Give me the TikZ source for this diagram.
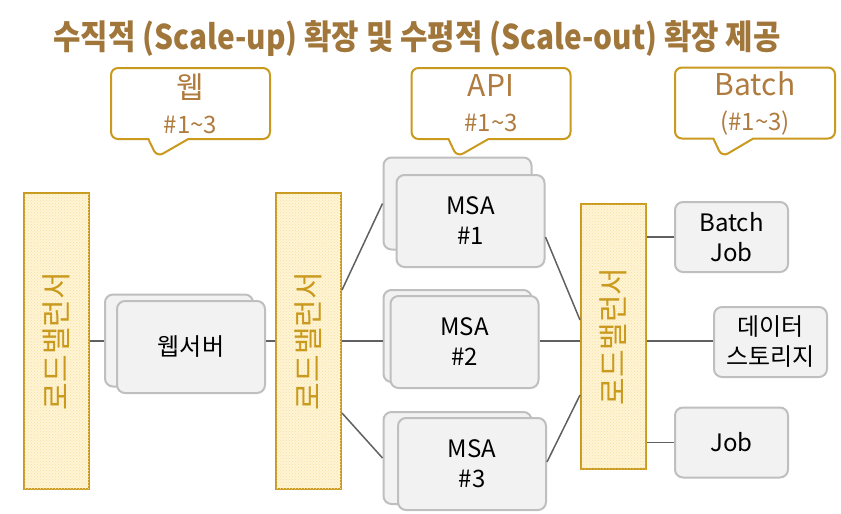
\documentclass[tikz,border=0pt]{standalone}
\usepackage{graphicx}
\usepackage{fontspec}
\setmainfont{Noto Sans CJK KR}
\usetikzlibrary{positioning,calc,patterns,shapes.callouts}

\definecolor{titlebrown}{HTML}{A0763A}
\definecolor{tagbrown}{HTML}{B07B3E}
\definecolor{gold}{HTML}{C99A1E}
\definecolor{lbfill}{HTML}{FFF4D4}
\definecolor{lbdot}{HTML}{F5E0A4}
\definecolor{boxfill}{HTML}{F2F2F2}
\definecolor{boxline}{HTML}{BFBFBF}
\definecolor{wirecol}{HTML}{606060}

\begin{document}
\begin{tikzpicture}[x=1pt, y=-1pt, every node/.style={font=\fontsize{24}{30}\selectfont, inner sep=0pt},
    lbbox/.style={draw=gold, line width=2pt, fill=lbfill, postaction={pattern=crosshatch dots, pattern color=lbdot},
                  minimum width=65pt, text=gold, font=\fontsize{30}{36}\selectfont},
    srvbox/.style={draw=boxline, line width=2pt, fill=boxfill, rounded corners=8pt, align=center,
                   minimum width=148pt, minimum height=92pt},
    jobbox/.style={srvbox, minimum width=113pt, minimum height=70pt},
    tag/.style={rectangle callout, draw=gold, line width=2pt, fill=white, rounded corners=7pt, text=tagbrown,
                align=center, minimum width=159pt, minimum height=71pt, callout pointer width=40pt},
    wire/.style={draw=wirecol, line width=1.5pt}]
    \useasboundingbox (0,0) rectangle (841,514);

    \node (title) at (417,39) [text=titlebrown, font=\fontsize{34}{40}\selectfont\bfseries]
          {\resizebox{727pt}{\height}{수직적 (Scale-up) 확장 및 수평적 (Scale-out) 확장 제공}};

    % callouts
    \node (tagweb)   at (190.5,103.5) [tag, callout absolute pointer={(157,157)}]
          {{\fontsize{30}{35}\selectfont 웹}\\[5pt]{\fontsize{24}{30}\selectfont \#1\textasciitilde3}};
    \node (tagapi)   at (491,103.5)   [tag, callout absolute pointer={(457,157)}]
          {{\fontsize{30}{35}\selectfont API}\\[5pt]{\fontsize{24}{30}\selectfont \#1\textasciitilde3}};
    \node (tagbatch) at (755,103)     [tag, minimum width=160pt, callout absolute pointer={(722,157)}]
          {{\fontsize{30}{35}\selectfont Batch}\\[5pt]{\fontsize{24}{30}\selectfont (\#1\textasciitilde3)}};

    % load balancers
    \node (lbweb)   at (56.5,341)   [lbbox, minimum height=296pt] {\rotatebox{90}{로드밸런서}};
    \node (lbapi)   at (308.5,341)  [lbbox, minimum height=296pt] {\rotatebox{90}{로드밸런서}};
    \node (lbbatch) at (613.5,336.5) [lbbox, minimum height=265pt] {\rotatebox{90}{로드밸런서}};

    % servers
    \node (webb)  at (179,340.5)   [srvbox] {};
    \node (web)   at (191,347)     [srvbox] {웹서버};
    \node (msa1b) at (457.5,203.5) [srvbox] {};
    \node (msa1)  at (470.5,221)   [srvbox] {MSA\\\#1};
    \node (msa2b) at (457.5,336)   [srvbox] {};
    \node (msa2)  at (464.5,342)   [srvbox] {MSA\\\#2};
    \node (msa3b) at (457.5,458)   [srvbox] {};
    \node (msa3)  at (472,464)     [srvbox] {MSA\\\#3};

    \node (bjob)    at (731.5,237)   [jobbox] {Batch\\Job};
    \node (storage) at (770.5,342)   [jobbox] {데이터\\스토리지};
    \node (job)     at (731.5,442.5) [jobbox] {Job};

    % wires
    \draw[wire] (lbweb.east) -- (lbweb.east -| webb.west);
    \draw[wire] (lbapi.west -| web.east) -- (lbapi.west);
    \draw[wire] ([yshift=51pt]lbapi.east) -- (msa1b.west);
    \draw[wire] (lbapi.east) -- (lbapi.east -| msa2b.west);
    \draw[wire] ([yshift=-72pt]lbapi.east) -- (msa3b.west);
    \draw[wire] ([yshift=-16pt]msa1.east) -- ([yshift=16.5pt]lbbatch.west);
    \draw[wire] (lbapi.east -| msa2.east) -- (lbapi.east -| lbbatch.west);
    \draw[wire] ([yshift=2pt]msa3.east) -- ([yshift=-58.5pt]lbbatch.west);
    \draw[wire] (bjob.west -| lbbatch.east) -- (bjob.west);
    \draw[wire] (lbapi.east -| lbbatch.east) -- (lbapi.east -| storage.west);
    \draw[wire] (job.west -| lbbatch.east) -- (job.west);
\end{tikzpicture}
\end{document}
